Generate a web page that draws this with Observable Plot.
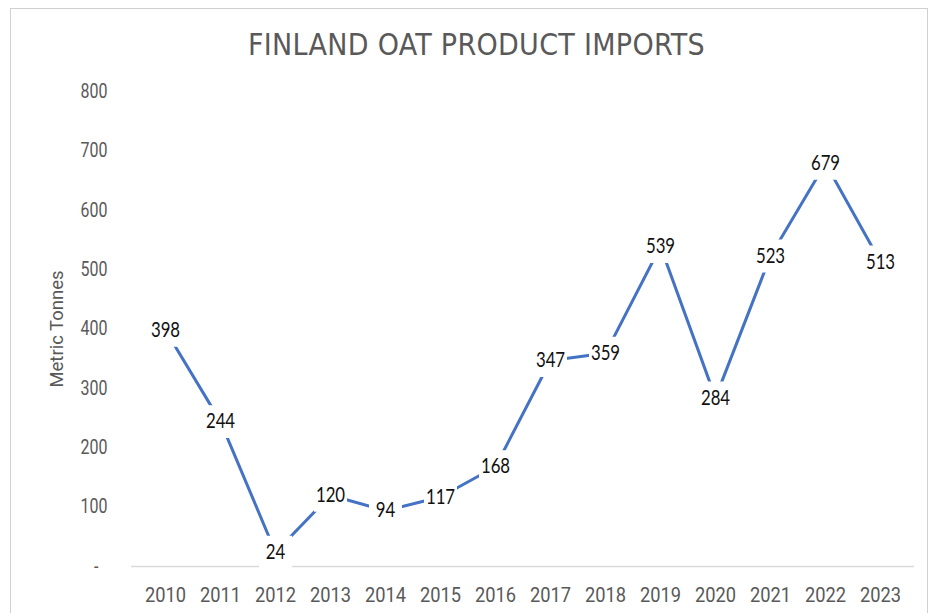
<!DOCTYPE html>
<html>
<head>
<meta charset="utf-8">
<script src="https://cdn.jsdelivr.net/npm/d3@7"></script>
<script src="https://cdn.jsdelivr.net/npm/@observablehq/plot@0.6"></script>
<style>
  html, body { margin: 0; padding: 0; background: #fff; }
  body { width: 937px; height: 613px; position: relative; overflow: hidden; }
  #frame { position: absolute; left: 10px; top: 8px; width: 918px; height: 660px; border: 1px solid #d0d0d0; box-sizing: border-box; }
  #title { position: absolute; left: 16px; top: 27px; width: 921px; text-align: center;
    font-family: "Liberation Sans Narrow", "DejaVu Sans Condensed", sans-serif; font-size: 30px; color: #595959; line-height: 36px; letter-spacing: 0.3px; }
  #chart { position: absolute; left: 0; top: 75px; }
  #chart svg g[aria-label^="x-axis"] text { font-family: Roboto, sans-serif; font-size: 21px; fill: #595959; }
  #chart svg g[aria-label^="y-axis"] text { font-family: Roboto, sans-serif; font-size: 19.5px; fill: #595959; }
</style>
</head>
<body>
<div id="frame"></div>
<div id="title">FINLAND OAT PRODUCT IMPORTS</div>
<div id="chart"></div>
<script>
const years = ["2010","2011","2012","2013","2014","2015","2016","2017","2018","2019","2020","2021","2022","2023"];
const imports = [398, 244, 24, 120, 94, 117, 168, 347, 359, 539, 284, 523, 679, 513];
const yTicks = [0, 100, 200, 300, 400, 500, 600, 700, 800];
const yLabel = "Metric Tonnes";

const data = years.map((y, i) => ({year: y, value: imports[i]}));

const chart = Plot.plot({
  width: 937,
  height: 538,
  marginLeft: 131,
  marginRight: 23,
  marginTop: 16,
  marginBottom: 47,
  style: {background: "transparent", overflow: "visible"},
  x: {type: "point", domain: years, padding: 0.5, label: null, tickSize: 0, tickPadding: 21},
  y: {domain: [0, 800], ticks: yTicks, tickFormat: d => d === 0 ? "-\u2007" : String(d), label: null, tickSize: 0, tickPadding: 24},
  marks: [
    Plot.ruleY([0], {stroke: "#d9d9d9", strokeWidth: 1.3}),
    Plot.line(data, {x: "year", y: "value", stroke: "#4472C4", strokeWidth: 3}),
    Plot.dot(data, {x: "year", y: "value", symbol: "square", r: 18.6, fill: "white", stroke: "none"}),
    Plot.text(data, {x: "year", y: "value", text: d => String(d.value), fontSize: 21, fontFamily: "Lato, sans-serif", fill: "#111"}),
    Plot.text([yLabel], {frameAnchor: "left", dx: -74, rotate: -90, textAnchor: "middle", fontSize: 18.5, fontFamily: "Roboto, sans-serif", fill: "#595959"})
  ]
});
document.getElementById("chart").appendChild(chart);

// narrow the glyphs horizontally around each text's anchor (condensed look)
function squeeze(texts, s) {
  texts.forEach(t => {
    const x = +t.getAttribute("x") || 0;
    const y = +t.getAttribute("y") || 0;
    const tr = t.getAttribute("transform") || "";
    t.setAttribute("transform", `${tr} translate(${x},${y}) scale(${s},1) translate(${-x},${-y})`);
  });
}
squeeze(chart.querySelectorAll('g[aria-label^="x-axis"] text'), 0.87);
squeeze(chart.querySelectorAll('g[aria-label^="y-axis"] text'), 0.82);
const textGroups = chart.querySelectorAll('g[aria-label="text"]');
if (textGroups.length) squeeze(textGroups[0].querySelectorAll("text"), 0.8);
</script>
</body>
</html>
